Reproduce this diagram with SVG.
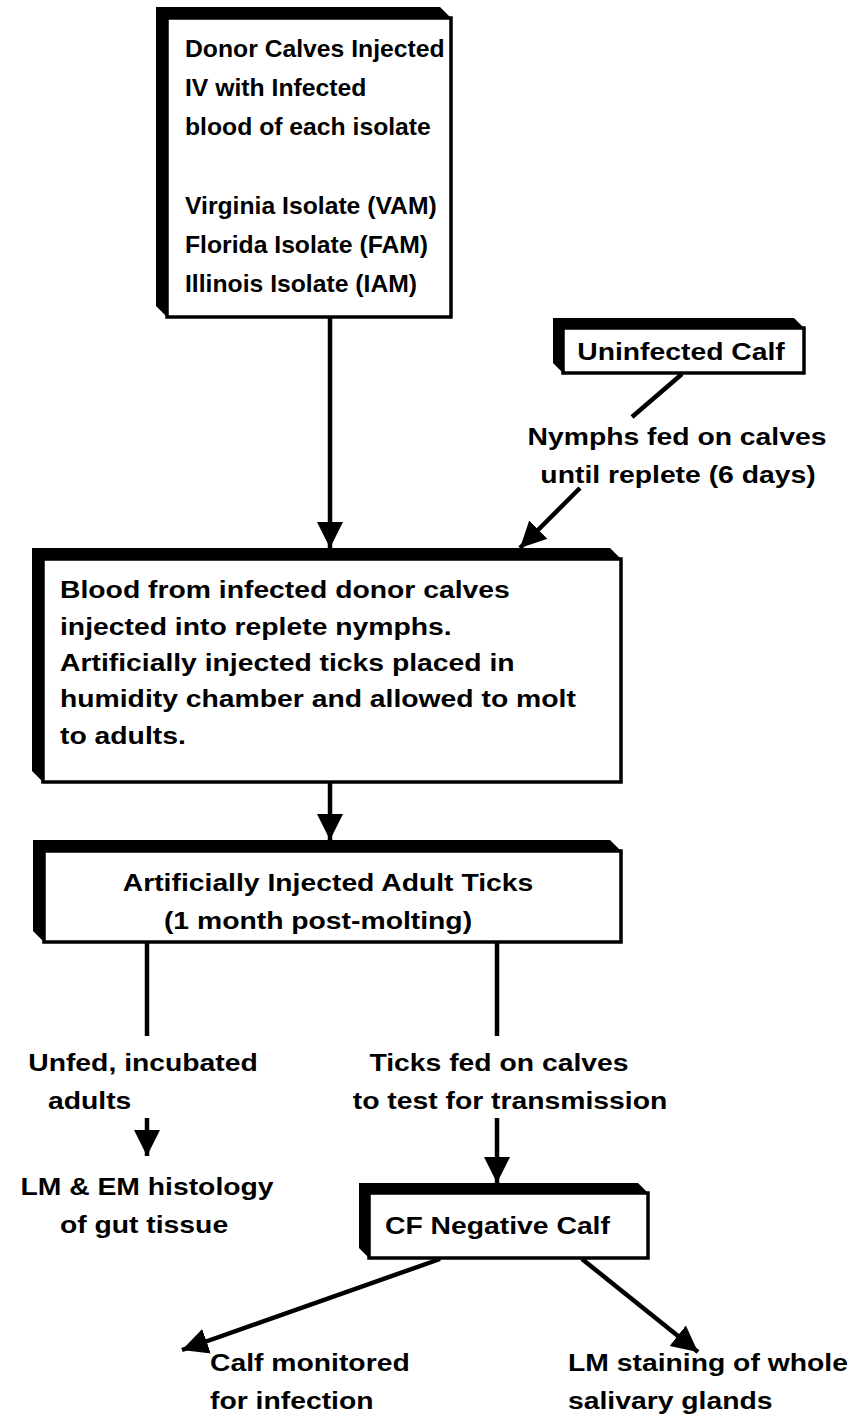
<svg xmlns="http://www.w3.org/2000/svg" width="856" height="1416" viewBox="0 0 856 1416">
<style>
.t{font-family:"Liberation Sans",Arial,sans-serif;font-weight:bold;font-size:24px;fill:#000}
.m{text-anchor:middle}
.sh{fill:#000}
.fr{fill:#fff;stroke:#000;stroke-width:3.5}
.ln{stroke:#000;stroke-width:4.5;fill:none}
</style>
<defs>
<marker id="ah" markerUnits="userSpaceOnUse" markerWidth="28" markerHeight="28" viewBox="0 0 28 28" refX="26" refY="14" orient="auto">
<path d="M0,1 L26,14 L0,27 Z" fill="#000"/>
</marker>
</defs>
<g id="connectors">
<line class="ln" x1="330" y1="318" x2="330" y2="548" marker-end="url(#ah)"/>
<line class="ln" x1="682" y1="374" x2="632" y2="417"/>
<line class="ln" x1="580" y1="488" x2="520" y2="548" marker-end="url(#ah)"/>
<line class="ln" x1="330" y1="783" x2="330" y2="840" marker-end="url(#ah)"/>
<line class="ln" x1="147" y1="943" x2="147" y2="1036"/>
<line class="ln" x1="497" y1="943" x2="497" y2="1036"/>
<line class="ln" x1="147" y1="1118" x2="147" y2="1156" marker-end="url(#ah)"/>
<line class="ln" x1="497" y1="1118" x2="497" y2="1183" marker-end="url(#ah)"/>
<line class="ln" x1="440" y1="1259" x2="182" y2="1350" marker-end="url(#ah)"/>
<line class="ln" x1="582" y1="1259" x2="698" y2="1352" marker-end="url(#ah)"/>
</g>
<g id="donor">
<polygon class="sh" points="156,7 440,7 451,18 451,317 167,317 156,306"/>
<rect class="fr" x="167" y="18" width="284" height="299"/>
<text class="t" transform="translate(185,57) scale(1.03,1)">Donor Calves Injected</text>
<text class="t" transform="translate(185,96) scale(1.03,1)">IV with Infected</text>
<text class="t" transform="translate(185,135) scale(1.03,1)">blood of each isolate</text>
<text class="t" transform="translate(185,214) scale(1.03,1)">Virginia Isolate (VAM)</text>
<text class="t" transform="translate(185,253) scale(1.03,1)">Florida Isolate (FAM)</text>
<text class="t" transform="translate(185,292) scale(1.03,1)">Illinois Isolate (IAM)</text>
</g>
<g id="uninfected">
<polygon class="sh" points="553,318 794,318 804,328 804,373 563,373 553,363"/>
<rect class="fr" x="563" y="328" width="241" height="45"/>
<text class="t m" transform="translate(681,360) scale(1.18,1)">Uninfected Calf</text>
</g>
<g id="nymphs-label">
<text class="t m" transform="translate(677,445) scale(1.18,1)">Nymphs fed on calves</text>
<text class="t m" transform="translate(678,483) scale(1.18,1)">until replete (6 days)</text>
</g>
<g id="blood">
<polygon class="sh" points="32,548 610,548 621,559 621,782 43,782 32,771"/>
<rect class="fr" x="43" y="559" width="578" height="223"/>
<text class="t" transform="translate(60,598) scale(1.18,1)">Blood from infected donor calves</text>
<text class="t" transform="translate(60,635) scale(1.18,1)">injected into replete nymphs.</text>
<text class="t" transform="translate(60,671) scale(1.18,1)">Artificially injected ticks placed in</text>
<text class="t" transform="translate(60,707) scale(1.18,1)">humidity chamber and allowed to molt</text>
<text class="t" transform="translate(60,744) scale(1.18,1)">to adults.</text>
</g>
<g id="adult-ticks">
<polygon class="sh" points="33,840 610,840 621,851 621,942 44,942 33,931"/>
<rect class="fr" x="44" y="851" width="577" height="91"/>
<text class="t m" transform="translate(328,891) scale(1.18,1)">Artificially Injected Adult Ticks</text>
<text class="t m" transform="translate(318,929) scale(1.18,1)">(1 month post-molting)</text>
</g>
<g id="unfed-label">
<text class="t m" transform="translate(143,1071) scale(1.18,1)">Unfed, incubated</text>
<text class="t" transform="translate(48,1109) scale(1.18,1)">adults</text>
</g>
<g id="ticks-fed-label">
<text class="t m" transform="translate(499,1071) scale(1.18,1)">Ticks fed on calves</text>
<text class="t m" transform="translate(510,1109) scale(1.18,1)">to test for transmission</text>
</g>
<g id="histology-label">
<text class="t m" transform="translate(147,1195) scale(1.18,1)">LM &amp; EM histology</text>
<text class="t m" transform="translate(144,1233) scale(1.18,1)">of gut tissue</text>
</g>
<g id="cf-negative">
<polygon class="sh" points="359,1183 638,1183 648,1193 648,1258 369,1258 359,1248"/>
<rect class="fr" x="369" y="1193" width="279" height="65"/>
<text class="t" transform="translate(385,1234) scale(1.18,1)">CF Negative Calf</text>
</g>
<g id="monitored-label">
<text class="t" transform="translate(210,1371) scale(1.18,1)">Calf monitored</text>
<text class="t" transform="translate(210,1409) scale(1.18,1)">for infection</text>
</g>
<g id="staining-label">
<text class="t" transform="translate(568,1371) scale(1.18,1)">LM staining of whole</text>
<text class="t" transform="translate(568,1409) scale(1.18,1)">salivary glands</text>
</g>
</svg>
